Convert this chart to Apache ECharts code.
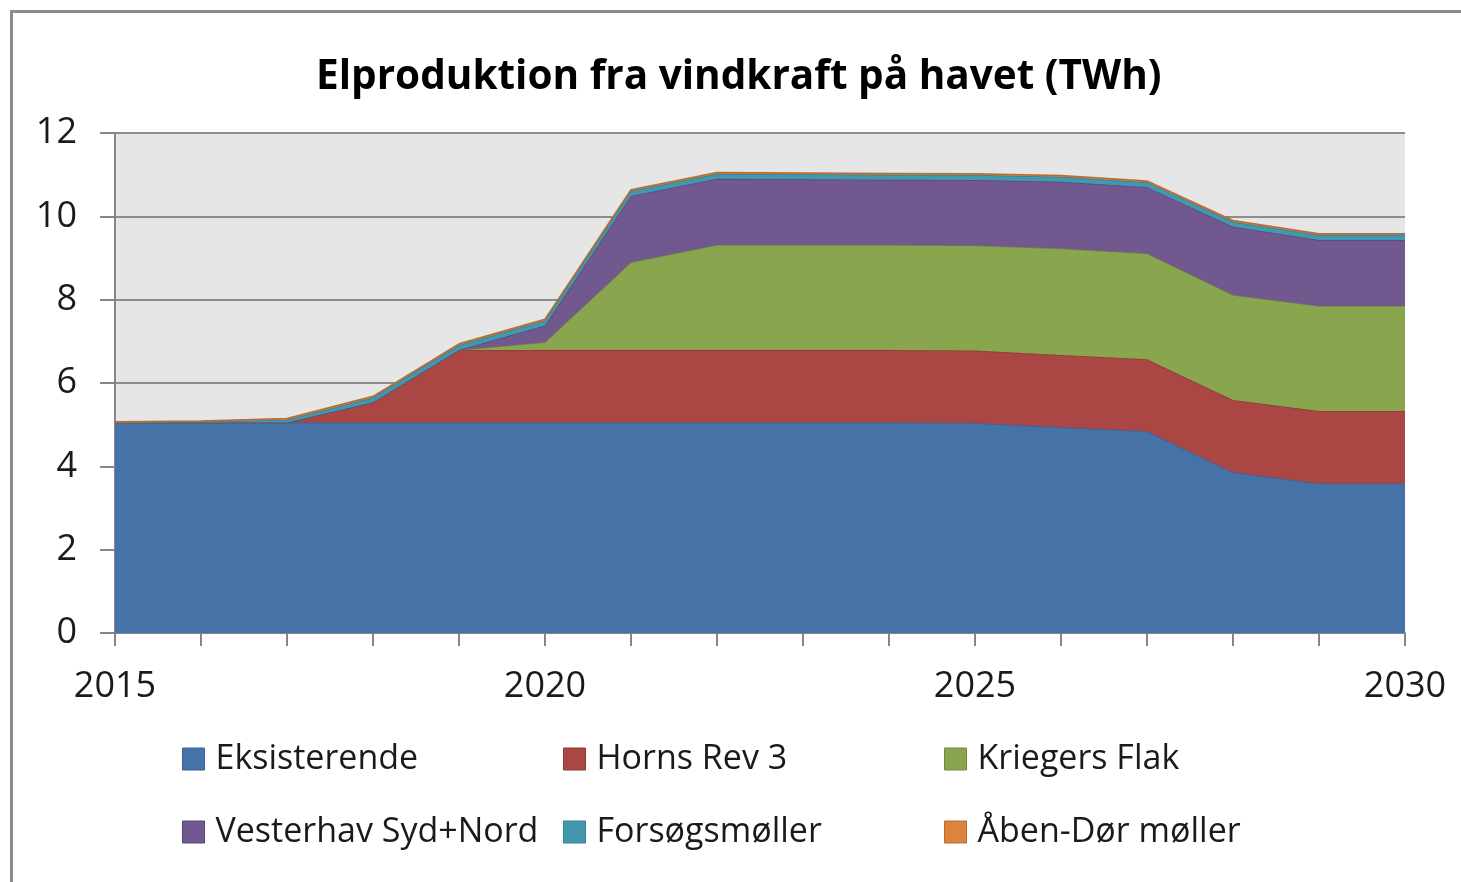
<!DOCTYPE html>
<html>
<head>
<meta charset="utf-8">
<script src="https://cdn.jsdelivr.net/npm/echarts@6/dist/echarts.min.js"></script>
<style>
  html, body { margin: 0; padding: 0; background: #fff; }
  #frame {
    position: absolute; left: 10px; top: 10px; width: 1460px; height: 880px;
    border-top: 3px solid #8c8c8c; border-left: 3px solid #8c8c8c;
    box-sizing: border-box;
  }
  #chart { position: absolute; left: 0; top: 0; width: 1461px; height: 882px; }
</style>
</head>
<body>
<div id="frame"></div>
<div id="chart"></div>
<script>
// år
const years = ['2015','2016','2017','2018','2019','2020','2021','2022','2023','2024','2025','2026','2027','2028','2029','2030'];
// TWh pr. kilde
const eksisterende = [5.05, 5.05, 5.05, 5.05, 5.05, 5.05, 5.05, 5.05, 5.05, 5.05, 5.04, 4.94, 4.84, 3.86, 3.59, 3.59];
const hornsRev3    = [0, 0, 0, 0.49, 1.74, 1.74, 1.74, 1.74, 1.74, 1.74, 1.74, 1.73, 1.73, 1.73, 1.74, 1.74];
const kriegersFlak = [0, 0, 0, 0, 0, 0.19, 2.11, 2.52, 2.52, 2.52, 2.52, 2.56, 2.54, 2.52, 2.52, 2.52];
const vesterhav    = [0, 0, 0, 0, 0, 0.40, 1.59, 1.59, 1.58, 1.57, 1.57, 1.60, 1.59, 1.64, 1.58, 1.58];
const forsoeg      = [0, 0.02, 0.07, 0.11, 0.12, 0.12, 0.12, 0.12, 0.12, 0.12, 0.12, 0.12, 0.12, 0.12, 0.12, 0.12];
const aabenDoer    = [0.02, 0.02, 0.03, 0.03, 0.03, 0.03, 0.03, 0.03, 0.03, 0.03, 0.03, 0.03, 0.03, 0.03, 0.03, 0.03];

const names  = ['Eksisterende', 'Horns Rev 3', 'Kriegers Flak', 'Vesterhav Syd+Nord', 'Forsøgsmøller', 'Åben-Dør møller'];
const colors = ['#4572a7', '#aa4643', '#89a54e', '#71588f', '#4198af', '#db843d'];
const edges  = ['#3a6294', '#8f3a38', '#718a40', '#5c4776', '#33809a', '#b86c30'];
const values = [eksisterende, hornsRev3, kriegersFlak, vesterhav, forsoeg, aabenDoer];

const font = '"Open Sans", Lato, sans-serif';

// legend i 3 kolonner x 2 rækker
const legendPos = [[182, 738], [563, 738], [944, 738], [182, 811], [563, 811], [944, 811]];
const legends = names.map(function (n, i) {
  return {
    data: [n],
    left: legendPos[i][0],
    top: legendPos[i][1],
    padding: 0,
    itemWidth: 22,
    itemHeight: 22,
    icon: 'rect',
    selectedMode: false,
    itemStyle: { borderColor: edges[i], borderWidth: 1 },
    textStyle: { fontFamily: font, fontSize: 34, color: '#1a1a1a', lineHeight: 42, padding: [0, 0, 0, 6] }
  };
});

const chart = echarts.init(document.getElementById('chart'));
chart.setOption({
  animation: false,
  color: colors,
  title: {
    text: 'Elproduktion fra vindkraft på havet (TWh)',
    left: 311,
    top: 52,
    textStyle: { fontFamily: font, fontSize: 40.5, fontWeight: 'bold', color: '#000' }
  },
  legend: legends,
  grid: {
    left: 115, right: 56, top: 133, bottom: 249,
    show: true, backgroundColor: '#e6e6e6', borderWidth: 0
  },
  xAxis: {
    type: 'category',
    data: years,
    boundaryGap: false,
    axisLine: { lineStyle: { color: '#868686', width: 2 } },
    axisTick: { interval: 0, length: 13, lineStyle: { color: '#868686', width: 2 } },
    axisLabel: { interval: 4, margin: 36, fontFamily: font, fontSize: 36, color: '#1a1a1a' },
    splitLine: { show: false }
  },
  yAxis: {
    type: 'value',
    min: 0, max: 12, interval: 2,
    axisLine: { show: true, lineStyle: { color: '#868686', width: 2 } },
    axisTick: { show: true, length: 15, lineStyle: { color: '#868686', width: 2 } },
    axisLabel: { margin: 38, fontFamily: font, fontSize: 36, color: '#1a1a1a' },
    splitLine: { lineStyle: { color: '#8c8c8c', width: 2 } }
  },
  series: names.map(function (n, i) {
    return {
      name: n,
      type: 'line',
      stack: 'total',
      data: values[i],
      symbol: 'none',
      areaStyle: { color: colors[i], opacity: 1 },
      lineStyle: { color: edges[i], width: 1.5 },
      itemStyle: { color: colors[i] },
      z: 2 + i
    };
  })
});
</script>
</body>
</html>
